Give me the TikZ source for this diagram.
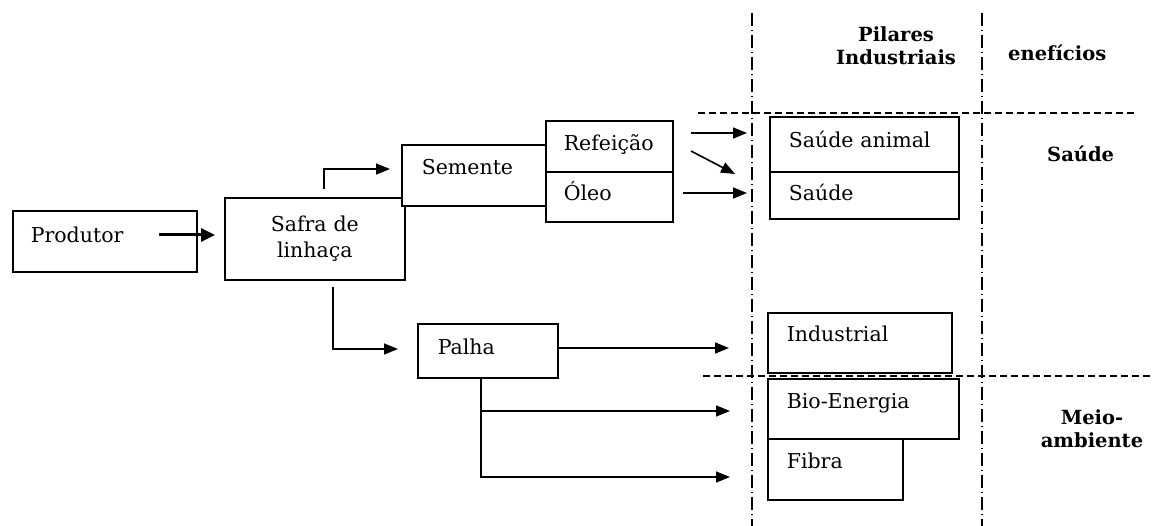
\documentclass[tikz,border=0pt]{standalone}
\usepackage{fontspec}
\setmainfont{DejaVu Serif}
\usetikzlibrary{arrows.meta}

% cell: a framed box placed by its top-left corner; the baseline of its
% single text line sits #6 below the top edge.
% #1 name, #2 x, #3 y, #4 width, #5 height, #6 baseline, #7 left pad, #8 text width, #9 text
\newcommand\cellbox[9]{%
  \pgfmathsetmacro\celldepth{#5-#6}%
  \node[box, anchor=north west, minimum width=#4, minimum height=#5,
        inner xsep=#7, text width=#8, text height=#6, text depth=\celldepth]
        (#1) at (#2,#3) {#9};}

\begin{document}
\begin{tikzpicture}[x=1pt, y=-1pt,
  font=\fontsize{20.5}{26}\selectfont,
  box/.style={draw, line width=1.6pt, fill=white, inner ysep=0pt, align=left},
  flow/.style={line width=1.6pt, -{Triangle[length=14pt,width=11pt]}},
  heavyflow/.style={line width=3pt, -{Triangle[length=14pt,width=13pt]}},
  colline/.style={line width=1.3pt, dash pattern=on 13pt off 4pt on 1pt off 4pt},
  rowline/.style={line width=1.3pt, dash pattern=on 7pt off 4pt},
  head/.style={font=\fontsize{19.5}{23}\selectfont\bfseries, align=center, inner sep=0pt}]

\useasboundingbox (0,0) rectangle (1152,526);

% column and row separators
\draw[colline] (752,13) -- (752,526);
\draw[colline] (982,13) -- (982,526);
\draw[rowline] (698,113) -- (1137,113);
\draw[rowline] (703,376) -- (1152,376);

% headings (base anchor = baseline of the last line)
\node[head, anchor=base] (pilares) at (896,65) {Pilares\\Industriais};
\node[head, anchor=base west] (beneficios) at (1008,61) {enefícios};
\node[head, anchor=base west] (saudehead) at (1047,162) {Saúde};
\node[head, anchor=base] (meio) at (1092,448) {Meio-\\ambiente};

% chain of boxes
\cellbox{produtor}{12}{210}{184}{61}{32}{18pt}{148pt}{Produtor}
\node[box, anchor=north west, minimum width=180, minimum height=82,
      text width=176pt, inner xsep=2pt, align=center] (safra) at (224,197)
      {Safra de\\linhaça};
\cellbox{semente}{401}{144}{144}{61}{30}{20pt}{104pt}{Semente}
\cellbox{refeicao}{545}{120}{127}{51}{30}{18pt}{91pt}{Refeição}
\cellbox{oleo}{545}{171}{127}{50}{29}{18pt}{91pt}{Óleo}
\cellbox{palha}{417}{323}{140}{54}{31}{20pt}{100pt}{Palha}

% pillar boxes
\cellbox{saudeanimal}{769}{116}{189}{55}{31}{19pt}{151pt}{Saúde animal}
\cellbox{saude}{769}{171}{189}{47}{29}{19pt}{151pt}{Saúde}
\cellbox{industrial}{767}{312}{184}{60}{29}{19pt}{146pt}{Industrial}
\cellbox{bioenergia}{767}{378}{191}{60}{30}{19pt}{153pt}{Bio-Energia}
\cellbox{fibra}{767}{438}{135}{61}{30}{19pt}{97pt}{Fibra}

% connector ends
\coordinate (p0) at (159,235);
\coordinate (p1) at (215,235);
\coordinate (s0) at (324,189);
\coordinate (s1) at (390,169);
\coordinate (h0) at (333,287);
\coordinate (h1) at (398,349);
\coordinate (r0) at (691,133);
\coordinate (r1) at (747,133);
\coordinate (d0) at (691,151);
\coordinate (d1) at (735,174);
\coordinate (o0) at (683,193);
\coordinate (o1) at (747,193);
\coordinate (i0) at (558,348);
\coordinate (i1) at (729,348);
\coordinate (b0) at (481,377);
\coordinate (b1) at (730,411);
\coordinate (f1) at (730,477);

% connectors
\draw[heavyflow] (p0) -- (p1);
\draw[flow] (s0) |- (s1);
\draw[flow] (h0) |- (h1);
\draw[flow] (r0) -- (r1);
\draw[flow] (d0) -- (d1);
\draw[flow] (o0) -- (o1);
\draw[flow] (i0) -- (i1);
\draw[flow] (b0) |- (b1);
\draw[flow] (b0) |- (f1);
\end{tikzpicture}
\end{document}
